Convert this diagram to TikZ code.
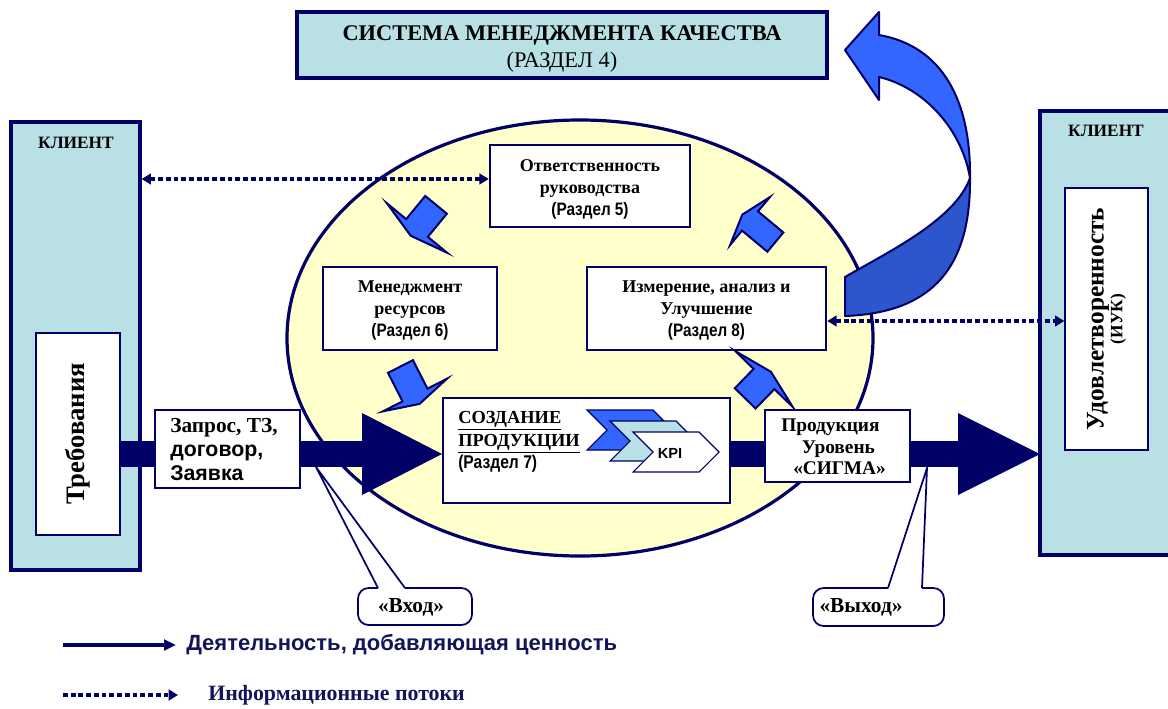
\documentclass[tikz,border=0pt]{standalone}
\usepackage{fontspec}
\setmainfont{Liberation Serif}
\setsansfont{Liberation Sans}
\newfontfamily\narrowfont[FakeStretch=0.85]{Liberation Sans}
\usetikzlibrary{arrows.meta,fit,calc}

\definecolor{navy}{HTML}{000066}
\definecolor{paleblue}{HTML}{B9E0E4}
\definecolor{paleyellow}{HTML}{FFFFCC}
\definecolor{brightblue}{HTML}{3366FF}
\definecolor{deepblue}{HTML}{2D55CC}
\definecolor{legendtext}{HTML}{14145A}

% small block arrow: base centre (x,y), angle, shaft length, shaft half width, head half width
\newcommand\blockarrow[6]{%
  \begin{scope}[shift={(#1,#2)},rotate=#3]
    \draw[turnarrow] (-#4,-#5) -- (0,-#5) -- (0,-#6) -- (10,0) -- (0,#6) -- (0,#5) -- (-#4,#5) -- cycle;
  \end{scope}}

\begin{document}
\begin{tikzpicture}[x=0.75pt,y=-0.75pt,
  client/.style={draw=navy, fill=paleblue, line width=2.4pt, inner sep=0pt},
  inner/.style={draw=navy, fill=white, line width=1pt, inner sep=0pt},
  stage/.style={draw=navy, fill=white, line width=1.9pt, inner sep=0pt},
  label/.style={font=\fontsize{13.5}{16.5}\selectfont\bfseries, align=center, inner sep=0pt},
  turnarrow/.style={draw=navy, fill=brightblue, line width=1.5pt, line join=miter},
  loopshape/.style={draw=navy, line width=1.5pt, line join=round},
  info/.style={draw=navy, line width=2.4pt, dash pattern=on 3.6pt off 2.2pt,
    {Triangle[length=7pt,width=8pt]}-{Triangle[length=7pt,width=8pt]}},
  callout/.style={draw=navy, line width=1.3pt},
  chevron/.style={draw=navy, line width=0.8pt},
]
\useasboundingbox (0,0) rectangle (1168,708);

% ---- customer (left)
\node[client, fit={(11,122)(140,570)}] (clientL) {};
\node[font=\fontsize{13}{15}\selectfont\bfseries] at (76,143) {КЛИЕНТ};
\node[inner, fit={(36,333)(120,535)}] (req) {};
\node[rotate=90, font=\fontsize{20}{24}\selectfont\bfseries] at (req.center) {Требования};

% ---- customer (right)
\fill[paleblue] (1040,111) rectangle (1172,555);
\draw[navy, line width=2.4pt] (1172,111) -- (1040,111) -- (1040,555) -- (1172,555);
\node[font=\fontsize{13}{15}\selectfont\bfseries] at (1106,131) {КЛИЕНТ};
\node[inner, fit={(1065,188)(1148,450)}] (sat) {};
\node[rotate=90, align=center, inner sep=0pt, font=\bfseries] at (sat.center)
  {{\fontsize{19}{20}\selectfont Удовлетворенность}\\{\fontsize{13}{15}\selectfont (ИУК)}};

% ---- quality management system
\node[draw=navy, fill=paleblue, line width=2.6pt, inner sep=0pt, fit={(297,12)(827,78)}] (qms) {};
\node[align=center, inner sep=0pt, font=\fontsize{16.8}{20}\selectfont] at ($(qms.center)+(0,4)$)
  {\bfseries СИСТЕМА МЕНЕДЖМЕНТА КАЧЕСТВА\\ \mdseries (РАЗДЕЛ 4)};

% ---- process ellipse
\draw[navy, fill=paleyellow, line width=2.4pt] (580,338) ellipse [x radius=293, y radius=218];

% ---- feedback arrow to the QMS
\draw[loopshape, fill=brightblue] (845,50) -- (879,12) -- (879,35)
  .. controls (942,46) and (971,100) .. (970,178)
  .. controls (962,130) and (925,88) .. (879,77) -- (879,100) -- cycle;
\draw[loopshape, fill=deepblue] (970,178)
  .. controls (971,275) and (925,313) .. (845,316) -- (845,277)
  .. controls (888,252) and (955,220) .. (970,178) -- cycle;

% ---- stage boxes
\node[stage, fit={(490,145)(690,227)}] (resp) {};
\node[label] at ($(resp.center)+(0,3)$) {Ответственность\\руководства\\{\narrowfont (Раздел 5)}};
\node[stage, fit={(323,267)(497,350)}] (res) {};
\node[label] at ($(res.center)+(0,2)$) {Менеджмент\\ресурсов\\{\narrowfont (Раздел 6)}};
\node[stage, fit={(587,267)(826,350)}] (meas) {};
\node[label] at ($(meas.center)+(0,2)$) {Измерение, анализ и\\Улучшение\\{\narrowfont (Раздел 8)}};

% ---- information flows
\draw[info] (clientL.east |- 0,179) -- (resp.west |- 0,179);
\draw[info] (meas.east |- 0,321) -- (sat.west |- 0,321);

% ---- cycle arrows between the stages
\blockarrow{417}{228}{-129.4}{30}{14}{39}
\blockarrow{415}{395}{-63}{32}{14}{36}
\blockarrow{764}{379}{45.8}{27}{14.5}{40}
\blockarrow{750}{221}{140.3}{33}{12.5}{31}

% ---- value-adding flow
\fill[navy] (req.east |- 0,441) rectangle (362,467);
\fill[navy] (362,413) -- (442,454) -- (362,495) -- cycle;
\fill[navy] (730,441) rectangle (958,467);
\fill[navy] (958,413) -- (1040,454) -- (958,495) -- cycle;

% ---- product realisation
\node[stage, fit={(443,398)(730,503)}] (prod) {};
\node[anchor=north west, align=left, inner sep=0pt, font=\fontsize{13.8}{17}\selectfont\bfseries]
  at (458,411) {\underline{СОЗДАНИЕ}\\\underline{ПРОДУКЦИИ}\\{\narrowfont (Раздел 7)}};
\foreach \x/\y/\c in {587/410/brightblue, 610/421/paleblue, 633/432/white}
  \draw[chevron, fill=\c, shift={(\x,\y)}] (0,0) -- (66,0) -- (86,20) -- (66,40) -- (0,40) -- (20,20) -- cycle;
\node[font=\sffamily\bfseries\fontsize{11}{13}\selectfont] (kpi) at (670,453) {KPI};

% ---- input and output
\node[stage, line width=1.6pt, fit={(155,410)(300,488)}] (inp) {};
\node[anchor=north west, align=left, inner sep=0pt, font=\fontsize{16}{18}\selectfont\bfseries]
  at (170,418) {Запрос, ТЗ,\\{\sffamily договор,}\\{\sffamily Заявка}};
\node[stage, line width=1.6pt, fit={(765,410)(910,482)}] (outp) {};
\node[anchor=west, align=left, inner sep=0pt, font=\fontsize{14.5}{16}\selectfont\bfseries]
  at (781,447) {Продукция\\\hspace*{15.5pt}Уровень\\\hspace*{9pt}«СИГМА»};

% ---- callouts
\coordinate (inTip) at (316,467);
\coordinate (outTip) at (927,468);
\fill[white, rounded corners=10pt] (358,588) rectangle (472,625);
\draw[callout, rounded corners=8pt] (405,588) -- (472,588) -- (472,625) -- (358,625) -- (358,588) -- (378,588);
\draw[callout, line join=miter] (378,588) -- (inTip) -- (405,588);
\node[font=\fontsize{16}{18}\selectfont\bfseries] (inLbl) at (411,607) {«Вход»};
\fill[white, rounded corners=10pt] (813,588) rectangle (944,626);
\draw[callout, rounded corners=8pt] (922,588) -- (944,588) -- (944,626) -- (813,626) -- (813,588) -- (888,588);
\draw[callout, line join=miter] (888,588) -- (outTip) -- (922,588);
\node[font=\fontsize{16}{18}\selectfont\bfseries] (outLbl) at (861,607) {«Выход»};

% ---- legend
\coordinate (legA) at (63,645);
\node[anchor=west, inner sep=0pt, text=legendtext, font=\sffamily\bfseries\fontsize{16.5}{19}\selectfont]
  (legAText) at (186,645) {Деятельность, добавляющая ценность};
\draw[navy, line width=2.4pt, -{Triangle[length=9pt,width=8pt]}] (legA) -- ($(legAText.west)+(-10,0)$);
\coordinate (legB) at (63,695);
\node[anchor=west, inner sep=0pt, text=legendtext, font=\bfseries\fontsize{16.4}{19}\selectfont]
  (legBText) at (208,695) {Информационные потоки};
\draw[navy, line width=2.4pt, dash pattern=on 3.6pt off 2.2pt, -{Triangle[length=7pt,width=8pt]}]
  (legB) -- ($(legBText.west)+(-30,0)$);
\end{tikzpicture}
\end{document}
